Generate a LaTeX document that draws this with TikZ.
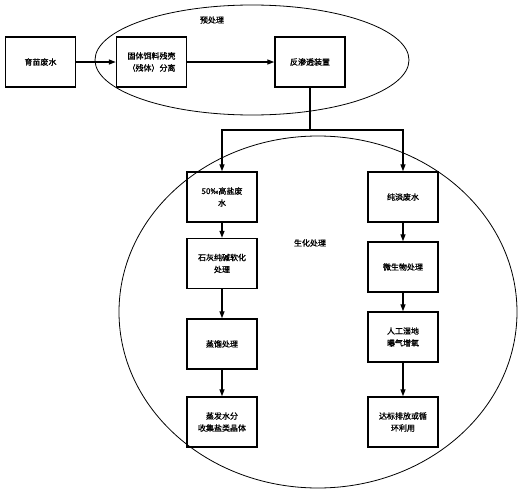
\documentclass[tikz,border=0pt]{standalone}
\usepackage{fontspec}
\setmainfont{Noto Sans CJK SC}[FakeBold=1.2]
\usetikzlibrary{arrows.meta}
\begin{document}
\begin{tikzpicture}[x=1pt,y=-1pt,
  box/.style={draw,line width=1.4pt,minimum width=70pt,minimum height=50pt,align=center,font=\fontsize{8}{12}\selectfont,inner sep=1pt},
  lbl/.style={font=\fontsize{8}{10}\selectfont},
  arr/.style={line width=1.3pt,-{Triangle[length=7pt,width=5pt]}},
  ln/.style={line width=1.3pt},
  oval/.style={draw,line width=0.8pt}]
\useasboundingbox (0,0) rectangle (523,493);
\draw[oval] (252,60) ellipse [x radius=157, y radius=55];
\draw[oval] (318,312) ellipse [x radius=199, y radius=176];
\node[lbl] (pre) at (212,20) {预处理};
\node[lbl] (bio) at (310,243) {生化处理};
\node[box] (a) at (40.5,62) {育苗废水};
\node[box] (b) at (151.5,62) {固体饵料残壳\\（残体）分离};
\node[box] (c) at (310,62) {反渗透装置};
\node[box] (l1) at (222,197) {50‰高盐废\\水};
\node[box] (l2) at (222,263.5) {石灰纯碱软化\\处理};
\node[box] (l3) at (222,344) {蒸馏处理};
\node[box] (l4) at (222,422) {蒸发水分\\收集盐类晶体};
\node[box] (r1) at (403,197) {纯淡废水};
\node[box] (r2) at (403,267) {微生物处理};
\node[box] (r3) at (403,337) {人工湿地\\曝气增氧};
\node[box] (r4) at (403,422) {达标排放或循\\环利用};
\coordinate (j) at (310,130);
\draw[arr] (a) -- (b);
\draw[arr] (b) -- (c);
\draw[ln] (c.south) -- (j);
\draw[arr] (j) -| (l1.north);
\draw[arr] (j) -| (r1.north);
\draw[arr] (l1) -- (l2);
\draw[arr] (l2) -- (l3);
\draw[arr] (l3) -- (l4);
\draw[arr] (r1) -- (r2);
\draw[arr] (r2) -- (r3);
\draw[arr] (r3) -- (r4);
\end{tikzpicture}
\end{document}
